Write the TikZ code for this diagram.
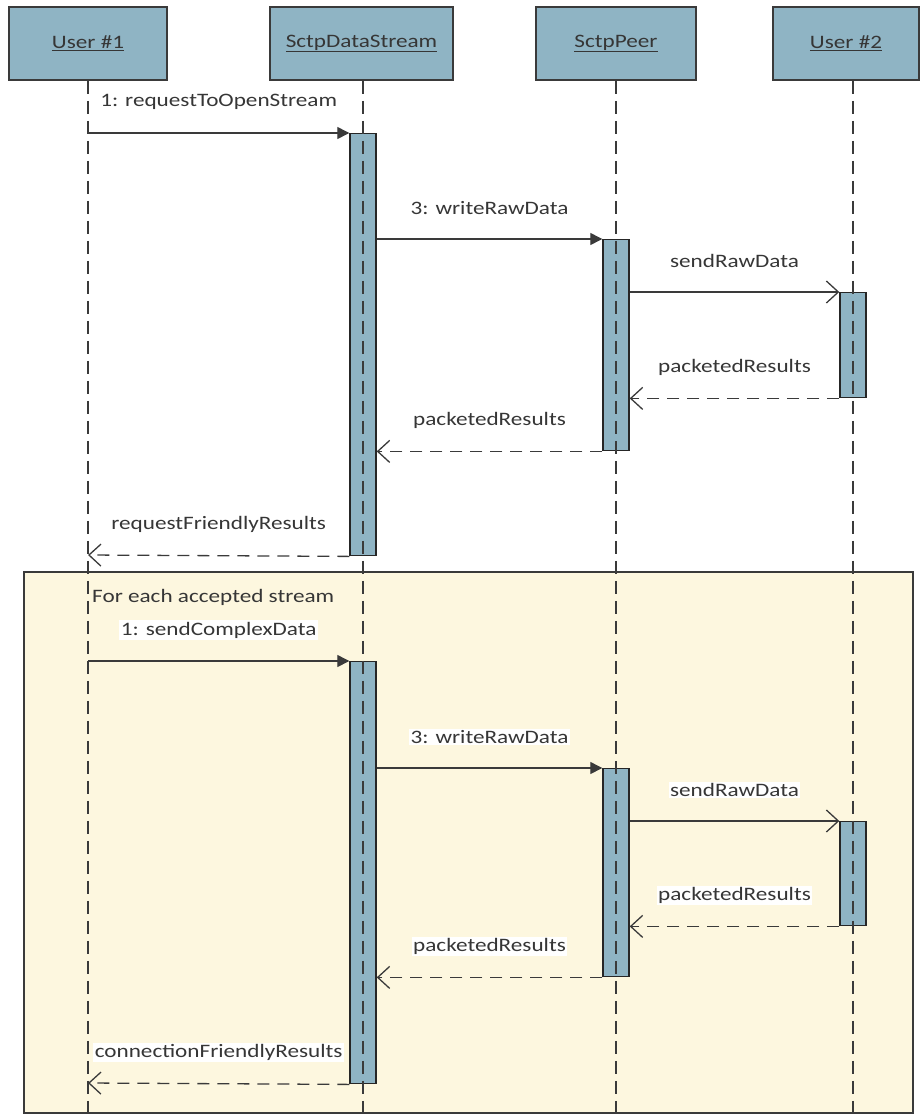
\documentclass[tikz,border=0pt]{standalone}
\usepackage{fontspec}
\setmainfont{Carlito}[FakeStretch=1.22]
\usetikzlibrary{arrows.meta}
\definecolor{hdrfill}{HTML}{8FB4C4}
\definecolor{edgegray}{HTML}{3A3A3A}
\definecolor{txtgray}{HTML}{363636}
\definecolor{loopfill}{HTML}{FDF7DF}
\tikzset{
  header/.style={draw=edgegray, line width=1.5pt, fill=hdrfill, minimum height=73pt,
    font=\fontsize{19}{22}\selectfont, text=txtgray, inner sep=0pt},
  lifeline/.style={draw=edgegray, line width=1.4pt, dash pattern=on 13pt off 7pt},
  activation/.style={draw=black!85, line width=1.4pt, fill=hdrfill, minimum width=26pt, inner sep=0pt},
  callmsg/.style={draw=edgegray, line width=1.3pt, -{Triangle[length=12pt,width=12pt]}},
  asyncmsg/.style={draw=edgegray, line width=1.3pt, -{Straight Barb[length=12pt,width=22pt,line width=1.3pt]}},
  replymsg/.style={draw=edgegray, line width=1.3pt, dash pattern=on 12pt off 8pt,
    -{Straight Barb[length=12pt,width=22pt,line width=1.3pt,sep=0pt]}},
  lbl/.style={fill=white, text=txtgray, font=\fontsize{19}{22}\selectfont, inner sep=1.5pt, yshift=31pt},
  looplbl/.style={text=txtgray, font=\fontsize{19}{22}\selectfont, inner sep=0pt, anchor=west}
}
\begin{document}
\begin{tikzpicture}[x=1pt,y=-1pt]
\useasboundingbox (0,0) rectangle (922,1117);

% combined fragment
\node[draw=edgegray, line width=1.5pt, fill=loopfill, minimum width=889pt, minimum height=541pt,
  inner sep=0pt, anchor=north west] (loop) at (23,571) {};
\node[looplbl] (looptxt) at (92,597) {For each accepted stream};

% participants
\node[header, minimum width=158pt] (u1) at (88,43.5) {\underline{User \#1}};
\node[header, minimum width=183pt] (ds) at (361.5,43.5) {\underline{SctpDataStream}};
\node[header, minimum width=160pt] (pe) at (616,43.5) {\underline{SctpPeer}};
\node[header, minimum width=146pt] (u2) at (846,43.5) {\underline{User \#2}};

% lifeline ends
\coordinate (u1e) at (88,1117);
\coordinate (dse) at (363,1117);
\coordinate (pee) at (616,1117);
\coordinate (u2e) at (853,1117);

% activation bars
\node[activation, minimum height=422pt, anchor=north] (a1) at (363,133) {};
\node[activation, minimum height=211pt, anchor=north] (a2) at (616,239) {};
\node[activation, minimum height=105pt, anchor=north] (a3) at (853,292) {};
\node[activation, minimum height=422pt, anchor=north] (b1) at (363,661) {};
\node[activation, minimum height=208pt, anchor=north] (b2) at (616,768) {};
\node[activation, minimum height=104pt, anchor=north] (b3) at (853,821) {};

% lifelines over everything
\draw[lifeline] (u1e |- u1.south) -- (u1e);
\draw[lifeline] (dse |- ds.south) -- (dse);
\draw[lifeline] (pee |- pe.south) -- (pee);
\draw[lifeline] (u2e |- u2.south) -- (u2e);

% message end points on User #1
\coordinate (p1) at (88,133);
\coordinate (p2) at (88,555);
\coordinate (q1) at (88,661);
\coordinate (q2) at (88,1083);

% first exchange
\draw[callmsg] (p1) -- node[lbl, midway] {1: requestToOpenStream} (a1.north west);
\draw[callmsg] (a1.east |- a2.north) -- node[lbl, midway] {3: writeRawData} (a2.north west);
\draw[asyncmsg] (a2.east |- a3.north) -- node[lbl, midway] {sendRawData} (a3.north west);
\draw[replymsg] (a3.south west) -- node[lbl, midway] {packetedResults} (a2.east |- a3.south);
\draw[replymsg] (a2.south west) -- node[lbl, midway] {packetedResults} (a1.east |- a2.south);
\draw[replymsg] (a1.south west) -- node[lbl, midway] {requestFriendlyResults} (p2);

% loop body
\draw[callmsg] (q1) -- node[lbl, midway] {1: sendComplexData} (b1.north west);
\draw[callmsg] (b1.east |- b2.north) -- node[lbl, midway] {3: writeRawData} (b2.north west);
\draw[asyncmsg] (b2.east |- b3.north) -- node[lbl, midway] {sendRawData} (b3.north west);
\draw[replymsg] (b3.south west) -- node[lbl, midway] {packetedResults} (b2.east |- b3.south);
\draw[replymsg] (b2.south west) -- node[lbl, midway] {packetedResults} (b1.east |- b2.south);
\draw[replymsg] (b1.south west) -- node[lbl, midway] {connectionFriendlyResults} (q2);
\end{tikzpicture}
\end{document}
